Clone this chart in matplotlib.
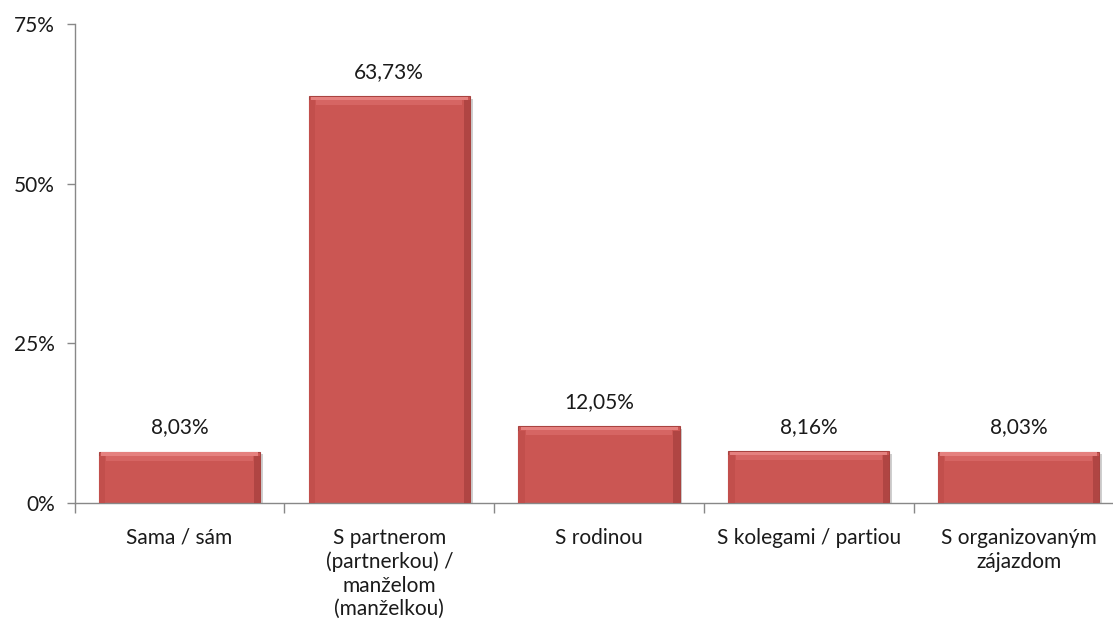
import matplotlib.pyplot as plt
import matplotlib.patheffects as pe
import numpy as np

plt.rcParams['font.family'] = ['Lato', 'DejaVu Sans']

categories = ['Sama / sám', 'S partnerom\n(partnerkou) /\nmanželom\n(manželkou)',
              'S rodinou', 'S kolegami / partiou', 'S organizovaným\nzájazdom']
values = [8.03, 63.73, 12.05, 8.16, 8.03]
value_labels = ['8,03%', '63,73%', '12,05%', '8,16%', '8,03%']
yticks = [0, 25, 50, 75]
ytick_labels = ['0%', '25%', '50%', '75%']

W, H = 1113, 632
fig = plt.figure(figsize=(W / 100, H / 100), dpi=100)
# x axis runs a bit past the right edge of the figure
ax = fig.add_axes([74.6 / W, (H - 503) / H, (1123.5 - 74.6) / W, (503 - 24) / H])

x = np.arange(len(values))
bw = 0.768
face = '#CB5653'
bars = ax.bar(x, values, width=bw, color=face, edgecolor='#A84340', linewidth=0.8, zorder=2,
              path_effects=[pe.SimplePatchShadow(offset=(2, -2), shadow_rgbFace='#777777', alpha=0.35),
                            pe.Normal()])
# soft bevel: light strip along the top, slightly darker sides
for xi, v in zip(x, values):
    ax.bar(xi, 0.9, bottom=v - 1.4, width=bw - 0.07, color='#D66563', linewidth=0, zorder=3)
    ax.bar(xi, 0.5, bottom=v - 0.6, width=bw - 0.02, color='#E5817F', linewidth=0, zorder=3)
    ax.bar(xi - bw / 2 + 0.015, v - 0.7, bottom=0, width=0.03, color='#C24F4C', linewidth=0, zorder=3)
    ax.bar(xi + bw / 2 - 0.015, v - 0.7, bottom=0, width=0.03, color='#B04543', linewidth=0, zorder=3)

for xi, v, lab in zip(x, values, value_labels):
    ax.text(xi, v + 3.8, lab, ha='center', va='center', fontsize=15, color='#1a1a1a')

ax.set_xlim(-0.5, len(values) - 0.5)
ax.set_ylim(0, 75)
ax.set_yticks(yticks)
ax.set_yticklabels(ytick_labels, fontsize=15, color='#1a1a1a')
ax.set_xticks(x)
ax.set_xticklabels(categories, fontsize=15, color='#1a1a1a', linespacing=1.22, va='top')
ax.set_xticks(np.arange(len(values) + 1) - 0.5, minor=True)
ax.tick_params(axis='x', which='major', length=0, pad=18)
ax.tick_params(axis='x', which='minor', length=7, color='#888888', width=1)
ax.tick_params(axis='y', length=6, color='#888888', width=1, pad=8)

for s in ['top', 'right']:
    ax.spines[s].set_visible(False)
for s in ['left', 'bottom']:
    ax.spines[s].set_color('#888888')
    ax.spines[s].set_linewidth(1)

fig.savefig('out.png', dpi=100)
